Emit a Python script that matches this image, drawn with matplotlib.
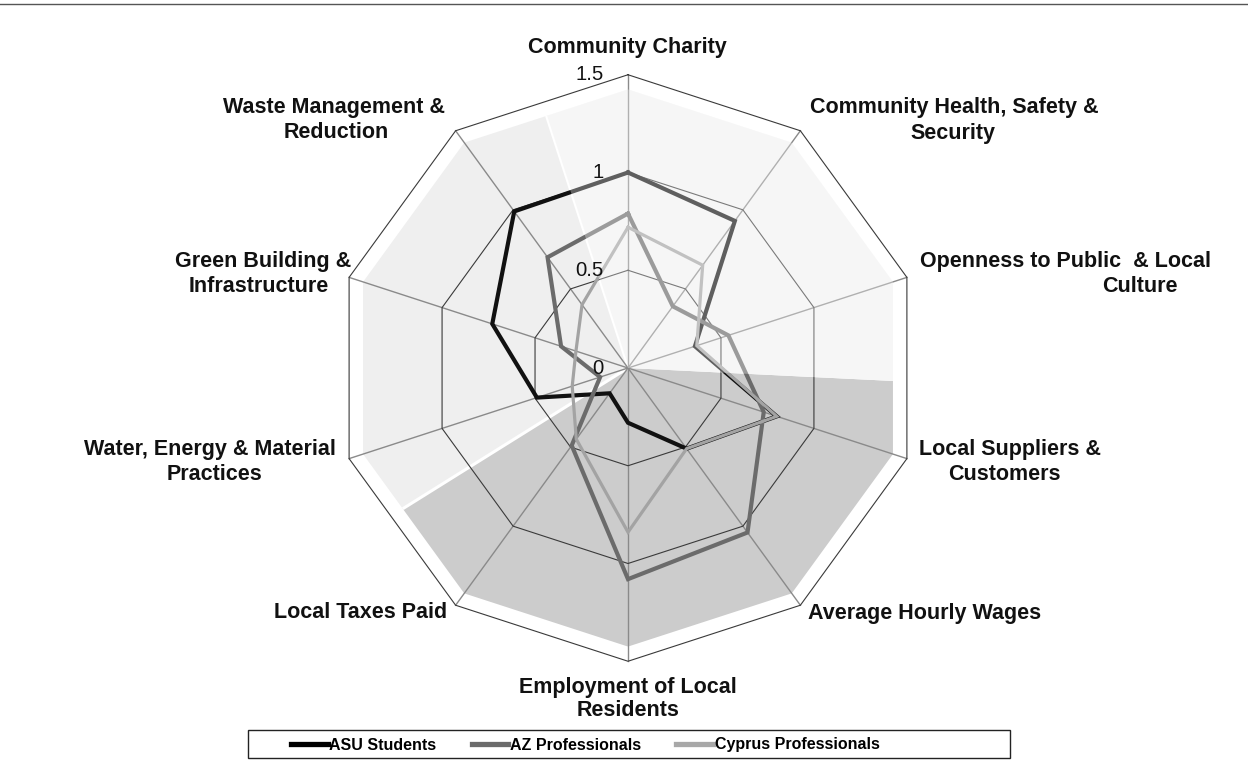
import numpy as np
import matplotlib
matplotlib.use("Agg")
import matplotlib.pyplot as plt
from matplotlib.patches import Polygon, Rectangle
from matplotlib.lines import Line2D

# ---------------- data ----------------
categories = [
    "Community Charity",
    "Community Health, Safety &\nSecurity",
    "Openness to Public  & Local\nCulture",
    "Local Suppliers &\nCustomers",
    "Average Hourly Wages",
    "Employment of Local\nResidents",
    "Local Taxes Paid",
    "Water, Energy & Material\nPractices",
    "Green Building &\nInfrastructure",
    "Waste Management &\nReduction",
]
asu_students = [1.00, 0.93, 0.36, 0.80, 0.51, 0.28, 0.16, 0.49, 0.73, 0.99]
az_professionals = [0.79, 0.39, 0.54, 0.73, 1.04, 1.08, 0.49, 0.15, 0.36, 0.70]
cyprus_professionals = [0.72, 0.65, 0.37, 0.80, 0.51, 0.84, 0.45, 0.30, 0.28, 0.40]
series_names = ["ASU Students", "AZ Professionals", "Cyprus Professionals"]
ring_values = [0.5, 1.0, 1.5]
tick_values = [0, 0.5, 1.0, 1.5]
tick_labels = ["0", "0.5", "1", "1.5"]

# ---------------- layout / style ----------------
W, H = 1248, 771
CX, CY, UNIT = 628, 368, 195.5
FONT = "Liberation Sans"
plt.rcParams["font.family"] = [FONT, "DejaVu Sans"]

fig = plt.figure(figsize=(W / 100, H / 100), dpi=100)
fig.patch.set_facecolor("white")
ax = fig.add_axes([0, 0, 1, 1])
ax.set_xlim(-CX / UNIT, (W - CX) / UNIT)
ax.set_ylim(-(H - CY) / UNIT, CY / UNIT)
ax.axis("off")

n = len(categories)
ang_deg = 90 - 36 * np.arange(n)
ang = np.deg2rad(ang_deg)


def to_xy(vals):
    v = np.asarray(vals, dtype=float)
    return v * np.cos(ang), v * np.sin(ang)


def deca_r(theta_deg, R):
    phi = ((theta_deg + 18) % 36) - 18
    return R * np.cos(np.deg2rad(18)) / np.cos(np.deg2rad(phi))


def sector(a1, a2, R, steps=400):
    t = np.linspace(a1, a2, steps)
    r = deca_r(t, R)
    xs = np.concatenate([[0], r * np.cos(np.deg2rad(t))])
    ys = np.concatenate([[0], r * np.sin(np.deg2rad(t))])
    return np.column_stack([xs, ys])


R_SHADE = 1.425
# background slices
ax.add_patch(Polygon(sector(108, 212, R_SHADE), closed=True, fc="#efefef", ec="none", zorder=0))
ax.add_patch(Polygon(sector(212, 357.2, R_SHADE), closed=True, fc="#cccccc", ec="none", zorder=0))
ax.add_patch(Polygon(sector(-2.8, 108, R_SHADE), closed=True, fc="#f3f3f3", ec="none", zorder=0))
for a, lw in ((108, 1.5), (212, 2.2)):
    rr = deca_r(a, R_SHADE)
    ax.plot([0, rr * np.cos(np.deg2rad(a))], [0, rr * np.sin(np.deg2rad(a))],
            color="white", lw=lw, zorder=0.5, solid_capstyle="butt")

# grid: spokes and rings
for a in ang:
    ax.plot([0, 1.5 * np.cos(a)], [0, 1.5 * np.sin(a)], color="#8a8a8a", lw=1.0, zorder=1)
for rv in ring_values:
    x, y = to_xy([rv] * n)
    ax.plot(np.append(x, x[0]), np.append(y, y[0]), color="#3a3a3a", lw=0.8, zorder=1.1)

# series
series = [asu_students, az_professionals, cyprus_professionals]
colors = ["#111111", "#6b6b6b", "#a3a3a3"]
widths = [3.0, 3.0, 2.3]
for vals, c, lw in zip(series, colors, widths):
    x, y = to_xy(vals)
    ax.plot(np.append(x, x[0]), np.append(y, y[0]), color=c, lw=lw, zorder=2,
            solid_joinstyle="miter")

# translucent top-right slice drawn over the lines
ax.add_patch(Polygon(sector(-2.8, 108, R_SHADE), closed=True, fc="white", alpha=0.33,
                     ec="none", zorder=3))

# tick labels
for tv, tl in zip(tick_values, tick_labels):
    ax.text(-0.123, tv, tl, ha="right", va="center", fontsize=14.6, color="#111111", zorder=6)

# category labels: pixel centre of each text line
label_lines_px = [
    [(627, 48)],
    [(954, 108), (953, 133)],
    [(1065, 261), (1140, 286)],
    [(1010, 449), (1004, 474)],
    [(925, 613)],
    [(628, 687), (628, 711)],
    [(361, 613)],
    [(210, 449), (214, 474)],
    [(263, 261), (259, 286)],
    [(334, 108), (336, 133)],
]
for lab, pos in zip(categories, label_lines_px):
    for line, (px, py) in zip(lab.split("\n"), pos):
        ax.text((px - CX) / UNIT, (CY - py) / UNIT, line, ha="center", va="center",
                fontsize=15.5, fontweight="bold", color="#111111", zorder=6)

# legend
handles = [Line2D([], [], color=c, lw=3.8) for c in ["#000000", "#6b6b6b", "#a8a8a8"]]
fig.legend(handles, series_names, loc="center left", bbox_to_anchor=(283 / W, 1 - 745 / H),
           frameon=False, ncol=3, prop={"family": FONT, "size": 11.5, "weight": "bold"},
           handlelength=2.3, handletextpad=0.1, columnspacing=2.2, borderpad=0.0)
fig.patches.append(Rectangle((248 / W, 1 - 758 / H), (1010 - 248) / W, (758 - 730) / H,
                             transform=fig.transFigure, fill=False, ec="#222222", lw=1.0))
fig.add_artist(Line2D([0, 1], [1 - 4 / H, 1 - 4 / H], color="#555555", lw=1.0))

fig.savefig("out.png", dpi=100, facecolor="white")
